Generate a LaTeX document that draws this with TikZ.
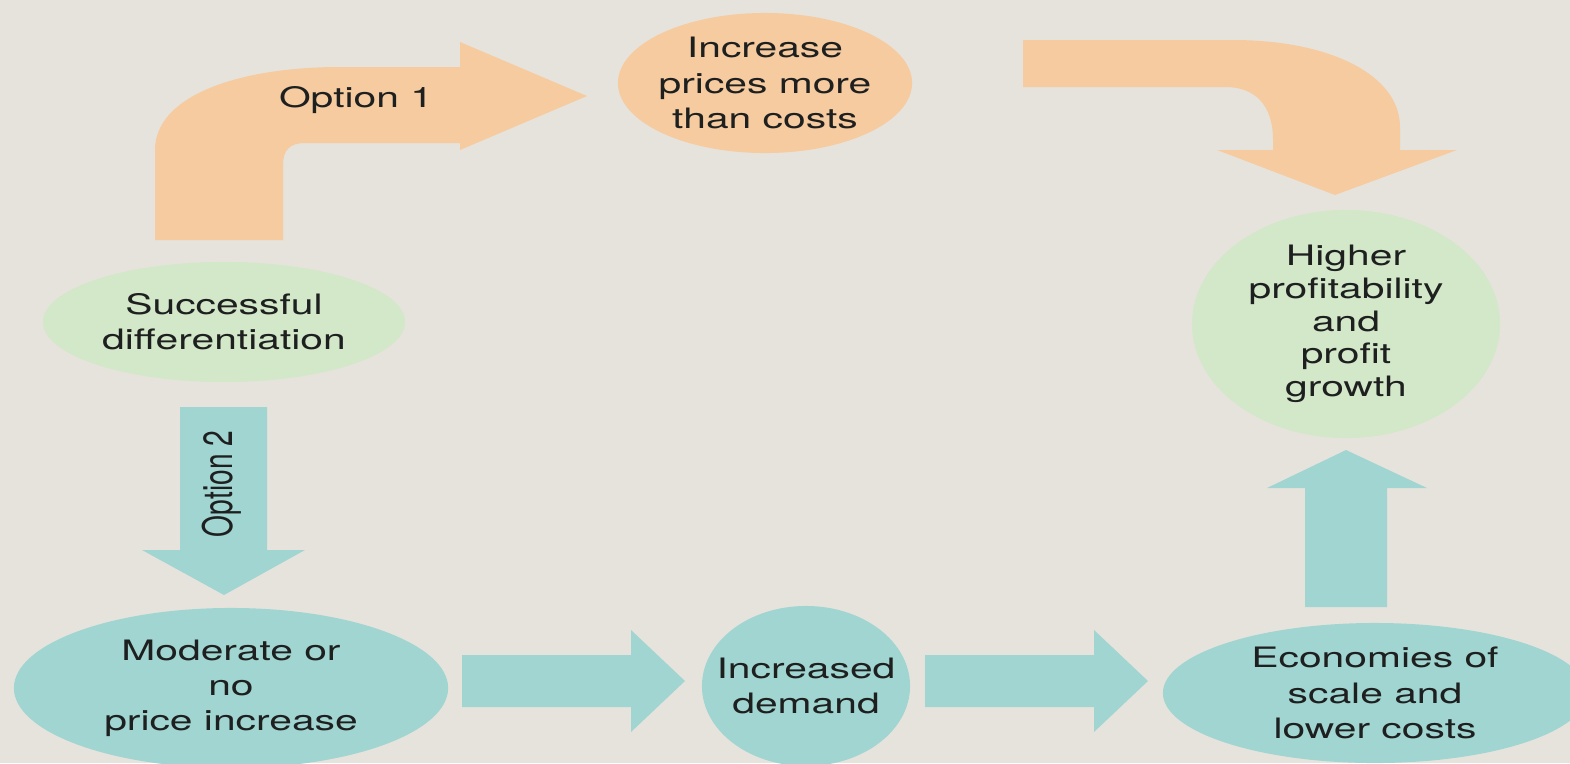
\documentclass[tikz,border=0pt]{standalone}
\usepackage{fontspec}
\setmainfont{TeX Gyre Heros}[FakeStretch=1.45]
\newfontfamily\uprightfont{TeX Gyre Heros}
\usetikzlibrary{shapes.geometric}
\definecolor{paper}{RGB}{230,227,220}
\definecolor{peach}{RGB}{246,203,160}
\definecolor{mint}{RGB}{211,231,201}
\definecolor{aqua}{RGB}{161,213,209}
\definecolor{ink}{RGB}{30,32,32}

\begin{document}
\begin{tikzpicture}[x=0.01cm, y=-0.01cm,
        blob/.style={ellipse, inner sep=0pt},
        hi/.style={blob, fill=peach},
        good/.style={blob, fill=mint},
        low/.style={blob, fill=aqua},
        txt/.style={align=center, text=ink, inner sep=0pt, font=\fontsize{8}{10}\selectfont}
    ]
        \useasboundingbox (0,0) rectangle (1570,763);
        \fill[paper] (0,0) rectangle (1570,763);

        \node[hi, minimum width=2.94cm, minimum height=1.40cm] (prices) at (765,83) {};
        \node[good, minimum width=3.62cm, minimum height=1.20cm] (success) at (224,322) {};
        \node[good, minimum width=3.08cm, minimum height=2.28cm] (profit) at (1346,324) {};
        \node[low, minimum width=4.34cm, minimum height=1.60cm] (moderate) at (231,688) {};
        \node[low, minimum width=2.08cm, minimum height=1.60cm] (demand) at (806,686) {};
        \node[low, minimum width=4.24cm, minimum height=1.40cm] (scale) at (1375,693) {};

        \node[txt] (pricesText) at (prices) {Increase\\prices more\\than costs};
        \node[txt] (successText) at (success) {Successful\\differentiation};
        \node[txt, font=\fontsize{8}{9.3}\selectfont] (profitText) at (profit) {Higher\\profitability\\and\\profit\\growth};
        \node[txt] (moderateText) at (moderate) {Moderate or\\no\\price increase};
        \node[txt] (demandText) at (demand) {Increased\\demand};
        \node[txt] (scaleText) at (scale) {Economies of\\scale and\\lower costs};

        % option 1: up and over to the prices
        \fill[peach] (155,240) -- (155,150) .. controls (155,95) and (240,67) .. (340,67)
            -- (460,67) -- (460,42) -- (587,96) -- (460,150) -- (460,143) -- (305,143)
            .. controls (290,143) and (283,150) .. (283,165) -- (283,240) -- cycle;
        \node[txt] (opt1) at (356,100) {Option 1};

        % prices down into profit
        \fill[peach] (1023,40) -- (1233,40) .. controls (1330,40) and (1400,75) .. (1400,127)
            -- (1400,150) -- (1457,150) -- (1335,195) -- (1217,150) -- (1273,150) -- (1273,140)
            .. controls (1273,105) and (1255,87) .. (1225,87) -- (1023,87) -- cycle;

        % option 2
        \fill[aqua] (180,407) -- (267,407) -- (267,550) -- (305,550) -- (224,595)
            -- (142,550) -- (180,550) -- cycle;
        \node[txt, rotate=90, yscale=1.45, font=\uprightfont\fontsize{8}{10}\selectfont] (opt2) at (222,484) {Option 2};

        \foreach \x in {462,925}
            \fill[aqua] (\x,655) -- (\x+169,655) -- (\x+169,630) -- (\x+223,681)
                -- (\x+169,732) -- (\x+169,707) -- (\x,707) -- cycle;

        \fill[aqua] (1305,607) -- (1305,488) -- (1267,488) -- (1346,450) -- (1427,488)
            -- (1387,488) -- (1387,607) -- cycle;
    \end{tikzpicture}
\end{document}
